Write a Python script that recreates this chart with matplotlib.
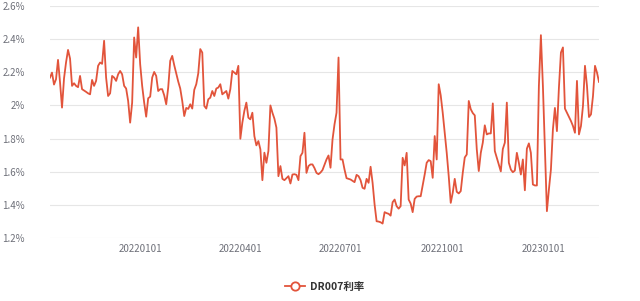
import numpy as np
import pandas as pd
import matplotlib
matplotlib.use("Agg")
import matplotlib.pyplot as plt
import matplotlib.dates as mdates
from matplotlib.ticker import FuncFormatter

plt.rcParams['font.family'] = ['Noto Sans CJK SC', 'DejaVu Sans']

# DR007 rate (%), evenly spaced from 2021-10-11 to 2023-02-20
rate_2021q4 = [2.168, 2.198, 2.126, 2.158, 2.275, 2.140, 1.987, 2.163, 2.259, 2.335,
               2.283, 2.118, 2.134, 2.118, 2.110, 2.178, 2.098, 2.090, 2.082, 2.073,
               2.067, 2.154, 2.118, 2.148, 2.239, 2.259, 2.251, 2.390, 2.168, 2.057,
               2.073, 2.178, 2.168, 2.148, 2.188, 2.208, 2.188, 2.118, 2.102, 2.027,
               1.896, 2.017, 2.410, 2.289, 2.471, 2.249, 2.118, 2.017, 1.932, 2.043,
               2.053, 2.168, 2.202, 2.178, 2.087, 2.098]
rate_2022q1 = [2.098, 2.061, 2.007, 2.108, 2.269, 2.299, 2.243, 2.194, 2.144, 2.102,
               2.027, 1.936, 1.985, 1.979, 2.007, 1.981, 2.094, 2.128, 2.194, 2.340,
               2.319, 1.997, 1.981, 2.037, 2.047, 2.087, 2.057, 2.102, 2.108, 2.128,
               2.067, 2.077, 2.087, 2.041, 2.098, 2.208, 2.198, 2.188, 2.239, 1.799,
               1.896, 1.967, 2.017, 1.926, 1.916, 1.956, 1.815, 1.759, 1.785, 1.735,
               1.549, 1.715, 1.654, 1.725, 2.000]
rate_2022q2 = [1.956, 1.920, 1.866, 1.573, 1.634, 1.557, 1.549, 1.561, 1.573, 1.529,
               1.583, 1.585, 1.581, 1.549, 1.694, 1.714, 1.835, 1.593, 1.634, 1.644,
               1.644, 1.622, 1.593, 1.585, 1.595, 1.610, 1.642, 1.674, 1.698, 1.624,
               1.794, 1.886, 1.956, 2.289, 1.674, 1.674, 1.613, 1.561, 1.557, 1.553,
               1.545, 1.537, 1.581, 1.573, 1.549, 1.503, 1.497, 1.557, 1.533, 1.630,
               1.533, 1.402, 1.301, 1.299, 1.295]
rate_2022q3 = [1.287, 1.356, 1.350, 1.346, 1.335, 1.416, 1.432, 1.392, 1.377, 1.392,
               1.684, 1.638, 1.714, 1.432, 1.408, 1.356, 1.436, 1.450, 1.452, 1.452,
               1.517, 1.583, 1.654, 1.670, 1.664, 1.563, 1.815, 1.674, 2.128, 2.061,
               1.956, 1.835, 1.714, 1.573, 1.412, 1.473, 1.557, 1.479, 1.469, 1.483,
               1.593, 1.686, 1.704, 2.027, 1.977, 1.954, 1.940, 1.735, 1.604, 1.714,
               1.775, 1.880, 1.825, 1.831, 1.831]
rate_2022q4 = [2.012, 1.725, 1.684, 1.644, 1.602, 1.737, 1.775, 2.017, 1.654, 1.613,
               1.597, 1.607, 1.714, 1.654, 1.583, 1.674, 1.488, 1.739, 1.771, 1.714,
               1.523, 1.517, 1.517, 2.118, 2.424, 2.118, 1.735, 1.362, 1.493, 1.613,
               1.856, 1.985, 1.845, 2.108, 2.319, 2.350, 1.981, 1.956, 1.932, 1.906,
               1.876, 1.835, 2.148, 1.825, 1.876, 1.997, 2.239, 2.118, 1.930, 1.946,
               2.057, 2.239, 2.198, 2.142]

rate = rate_2021q4 + rate_2022q1 + rate_2022q2 + rate_2022q3 + rate_2022q4
dates = pd.date_range("2021-10-11", "2023-02-20", periods=len(rate))

tick_dates = pd.to_datetime(["2022-01-01", "2022-04-01", "2022-07-01", "2022-10-01", "2023-01-01"])
y_ticks = [1.2, 1.4, 1.6, 1.8, 2.0, 2.2, 2.4, 2.6]

red = "#e2543b"
fig = plt.figure(figsize=(6.4, 3.01), dpi=100)
ax = fig.add_axes([50 / 640, 1 - 238 / 301, 549 / 640, 232 / 301])

ax.plot(dates, rate, color=red, lw=1.3, label="DR007利率",
        marker="o", markevery=[], markerfacecolor="white", markeredgecolor=red)

ax.set_xlim(dates[0], dates[-1])
ax.set_ylim(1.2, 2.6)
ax.set_yticks(y_ticks)
ax.yaxis.set_major_formatter(FuncFormatter(lambda v, p: f"{v:g}%"))
ax.set_xticks(tick_dates)
ax.xaxis.set_major_formatter(mdates.DateFormatter("%Y%m%d"))
ax.grid(axis="y", color="#e6e6e6", lw=0.8)
ax.set_axisbelow(True)
for s in ax.spines.values():
    s.set_visible(False)
ax.tick_params(axis="both", length=0, labelsize=7, labelcolor="#6e7079")
ax.tick_params(axis="y", pad=18)
ax.tick_params(axis="x", pad=4)

leg = fig.legend(handles=[plt.Line2D([], [], color=red, lw=1.3, marker="o", ms=6,
                                     markerfacecolor="white", markeredgecolor=red, markeredgewidth=1.3)],
                 labels=["DR007利率"], loc="center", bbox_to_anchor=(325 / 640, 1 - 287 / 301),
                 frameon=False, fontsize=7.5, handlelength=1.9, handletextpad=0.5)
for t in leg.get_texts():
    t.set_color("#333333")
    t.set_fontweight("bold")

fig.savefig("out.png", dpi=100)
